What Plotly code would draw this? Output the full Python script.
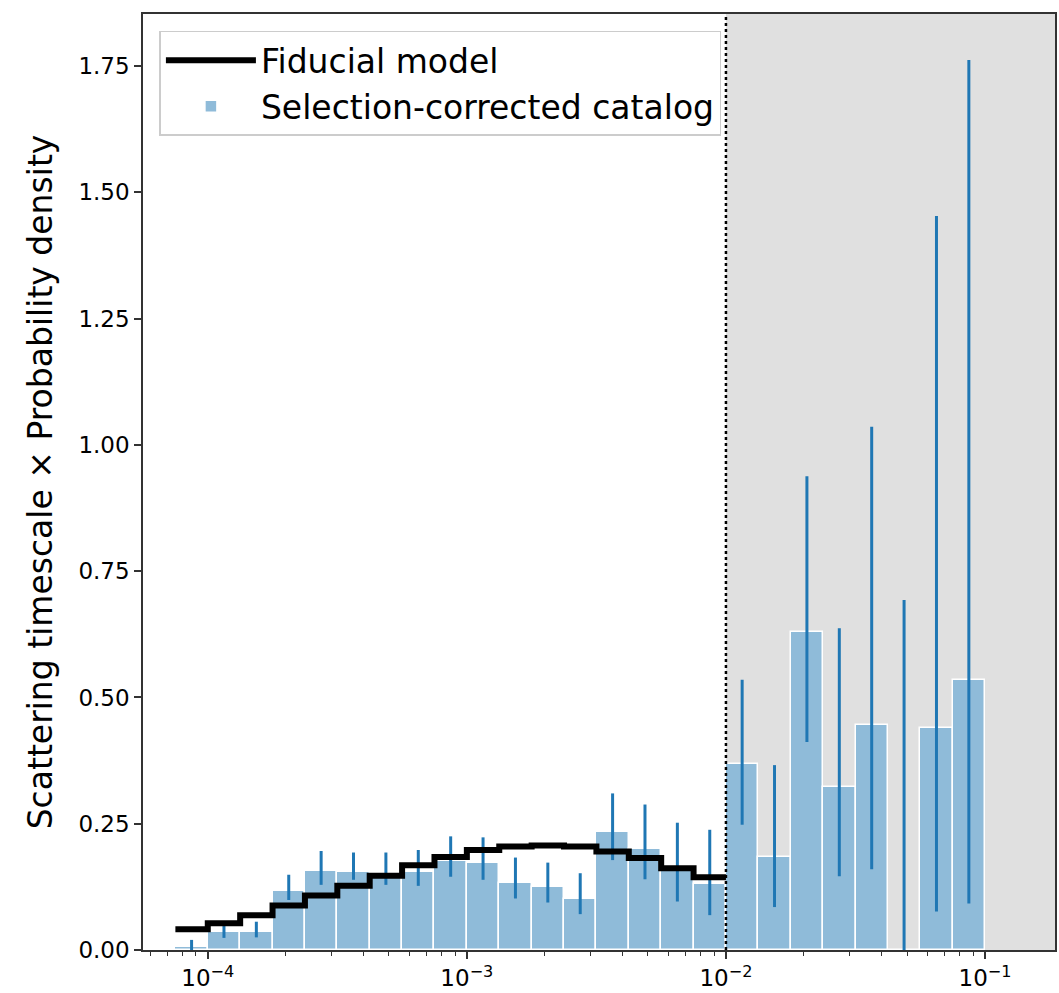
import numpy as np
import plotly.graph_objects as go

# Log-spaced bins: 8 per decade from 10^-4.125 to 10^-1
log_edges = [-4.125 + k / 8 for k in range(26)]

# Selection-corrected catalog histogram (tau * p(tau)) with asymmetric errors
catalog_vals = [0.006, 0.035, 0.035, 0.117, 0.156, 0.155, 0.142, 0.155, 0.176,
                0.172, 0.132, 0.125, 0.101, 0.233, 0.199, 0.162, 0.130,
                0.368, 0.185, 0.629, 0.322, 0.446, 0.0, 0.440, 0.535]
catalog_hi = [0.020, 0.048, 0.056, 0.149, 0.196, 0.193, 0.193, 0.198, 0.225,
              0.223, 0.183, 0.173, 0.152, 0.310, 0.288, 0.252, 0.238,
              0.535, 0.366, 0.938, 0.637, 1.036, 0.693, 1.453, 1.762]
catalog_lo = [0.0, 0.024, 0.025, 0.099, 0.129, 0.139, 0.129, 0.127, 0.145,
              0.139, 0.102, 0.094, 0.071, 0.178, 0.140, 0.096, 0.069,
              0.248, 0.085, 0.412, 0.146, 0.160, 0.0, 0.076, 0.092]

# Fiducial model evaluated on the first 17 bins (below 10^-2)
model_vals = [0.041, 0.053, 0.069, 0.088, 0.108, 0.127, 0.147, 0.168, 0.184,
              0.198, 0.205, 0.207, 0.205, 0.195, 0.182, 0.162, 0.144]

cut = 1e-2

edges = np.power(10.0, log_edges)
left = edges[:-1]
widths = edges[1:] - edges[:-1]
centers = np.sqrt(edges[:-1] * edges[1:])
vals = np.array(catalog_vals)
err_plus = np.array(catalog_hi) - vals
err_minus = vals - np.array(catalog_lo)

fig = go.Figure()

# Bars anchored at their left bin edge so each spans exactly one log bin
fig.add_trace(go.Bar(
    x=left, y=vals, width=widths, offset=0,
    marker=dict(color="#8fbbd9", line=dict(color="white", width=1.5)),
    name="Selection-corrected catalog",
))

# Error bars at the geometric bin centres
fig.add_trace(go.Scatter(
    x=centers, y=vals, mode="markers", marker=dict(size=1, opacity=0),
    error_y=dict(type="data", symmetric=False, array=err_plus, arrayminus=err_minus,
                 color="#1f77b4", thickness=3, width=0),
    showlegend=False, hoverinfo="skip",
))

n_model = len(model_vals)
model_x = edges[:n_model + 1]
model_y = model_vals + [model_vals[-1]]
fig.add_trace(go.Scatter(
    x=model_x, y=model_y, mode="lines", line=dict(color="black", width=6, shape="hv"),
    name="Fiducial model",
))

# Shaded region above the cut and the cut line itself
fig.add_shape(type="rect", xref="x", yref="paper", x0=cut, x1=10 ** -0.5, y0=0, y1=1,
              fillcolor="#e0e0e0", line=dict(width=0), layer="below")
fig.add_shape(type="line", xref="x", yref="paper", x0=cut, x1=cut, y0=0, y1=1,
              line=dict(color="black", width=2.5, dash="dot"))

major = [1e-4, 1e-3, 1e-2, 1e-1]
major_text = ["10<sup>\u22124</sup>", "10<sup>\u22123</sup>", "10<sup>\u22122</sup>", "10<sup>\u22121</sup>"]
minor = [m * 10.0 ** d for d in range(-5, 0) for m in range(2, 10)]

fig.update_layout(
    width=1059, height=993,
    margin=dict(l=143, r=2, t=14, b=43),
    paper_bgcolor="white", plot_bgcolor="white",
    font=dict(family="DejaVu Sans", color="black"),
    bargap=0,
    showlegend=True,
    legend=dict(
        x=0.018, y=0.982, xanchor="left", yanchor="top",
        bgcolor="white", bordercolor="#cccccc", borderwidth=1.5,
        font=dict(size=33), traceorder="reversed", itemwidth=90,
    ),
    xaxis=dict(
        type="log", range=[-4.25, -0.73],
        tickvals=major, ticktext=major_text, tickfont=dict(size=23),
        ticks="outside", ticklen=7, tickwidth=1.5, tickcolor="#333",
        minor=dict(tickvals=minor, ticks="outside", ticklen=4, tickwidth=1.2, tickcolor="#333"),
        showline=True, linecolor="#333", linewidth=1.5, mirror=True,
        showgrid=False, zeroline=False,
    ),
    yaxis=dict(
        range=[0, 1.853],
        tickvals=[0, 0.25, 0.5, 0.75, 1.0, 1.25, 1.5, 1.75],
        ticktext=["0.00", "0.25", "0.50", "0.75", "1.00", "1.25", "1.50", "1.75"],
        tickfont=dict(size=23),
        ticks="outside", ticklen=7, tickwidth=1.5, tickcolor="#333",
        showline=True, linecolor="#333", linewidth=1.5, mirror=True,
        showgrid=False, zeroline=False,
        title=dict(text="Scattering timescale \u00d7 Probability density",
                   font=dict(size=33), standoff=16),
    ),
)

fig.write_html("out.html")
